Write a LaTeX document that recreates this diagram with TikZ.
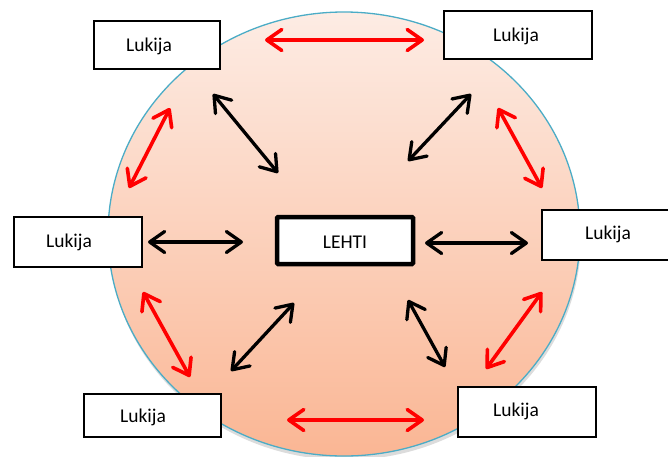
\documentclass[tikz,border=0pt]{standalone}
\usepackage{fontspec}
\setmainfont{Carlito}
\usetikzlibrary{arrows.meta}
\definecolor{rimblue}{RGB}{75,172,198}
\definecolor{peachtop}{RGB}{253,236,228}
\definecolor{peachbottom}{RGB}{250,182,148}
\definecolor{arrowred}{RGB}{255,0,0}
\tikzset{
  reader/.style={draw=black, line width=1.2pt, fill=white, inner sep=0pt},
  label/.style={font=\fontsize{19.5}{22}\selectfont, inner sep=0pt},
  barb/.tip={Straight Barb[length=15pt,width=21pt,line cap=round,line join=round]},
  twoway/.style={line width=3.3pt, {barb}-{barb}},
  blackway/.style={twoway, draw=black},
  redway/.style={twoway, draw=arrowred, line width=3.6pt},
}
\begin{document}
\begin{tikzpicture}[x=1pt,y=-1pt]
\useasboundingbox (0,0) rectangle (668,456);
% shaded disc with a soft shadow
\fill[gray!60, opacity=0.45] (345,238) ellipse [x radius=236, y radius=222];
\shade[top color=peachtop, bottom color=peachbottom, draw=rimblue, line width=1.3pt]
  (344,234) ellipse [x radius=236, y radius=222];

% arrow end points
\coordinate (rt1) at (265,40);   \coordinate (rt2) at (424,40);
\coordinate (rb1) at (287,420);  \coordinate (rb2) at (424,420);
\coordinate (rul1) at (129,188); \coordinate (rul2) at (170,108);
\coordinate (rur1) at (498,108); \coordinate (rur2) at (542,188);
\coordinate (rll1) at (143,292); \coordinate (rll2) at (190,377);
\coordinate (rlr1) at (542,292); \coordinate (rlr2) at (486,369);
\coordinate (bul1) at (213,94);  \coordinate (bul2) at (278,173);
\coordinate (bur1) at (471,94);  \coordinate (bur2) at (408,161);
\coordinate (bl1) at (148,242);  \coordinate (bl2) at (243,242);
\coordinate (br1) at (425,243);  \coordinate (br2) at (528,243);
\coordinate (bll1) at (294,303); \coordinate (bll2) at (231,371);
\coordinate (blr1) at (408,300); \coordinate (blr2) at (445,367);

% reader to reader links
\draw[redway] (rt1) -- (rt2);
\draw[redway] (rb1) -- (rb2);
\draw[redway] (rul1) -- (rul2);
\draw[redway] (rur1) -- (rur2);
\draw[redway] (rll1) -- (rll2);
\draw[redway] (rlr1) -- (rlr2);

% reader to paper links
\draw[blackway] (bul1) -- (bul2);
\draw[blackway] (bur1) -- (bur2);
\draw[blackway] (bl1) -- (bl2);
\draw[blackway] (br1) -- (br2);
\draw[blackway] (bll1) -- (bll2);
\draw[blackway] (blr1) -- (blr2);

% reader boxes
\node[reader, minimum width=126pt, minimum height=48pt] (btl) at (157,45) {};
\node[label] (ltl) at (149,46) {Lukija};
\node[reader, minimum width=148pt, minimum height=48pt] (btr) at (518,35) {};
\node[label] (ltr) at (516,36) {Lukija};
\node[reader, minimum width=128pt, minimum height=50pt] (bl) at (78,242) {};
\node[label] (ll) at (69,242) {Lukija};
\node[reader, minimum width=128pt, minimum height=50pt] (br) at (606,235) {};
\node[label] (lr) at (608,234) {Lukija};
\node[reader, minimum width=137pt, minimum height=43pt] (bbl) at (152.5,415.5) {};
\node[label] (lbl) at (143,417) {Lukija};
\node[reader, minimum width=138pt, minimum height=50pt] (bbr) at (527,412) {};
\node[label] (lbr) at (516,411) {Lukija};

% the paper in the middle
\node[draw=black, line width=4.5pt, fill=white, rounded corners=1pt,
      minimum width=136pt, minimum height=47pt, inner sep=0pt] (paperbox) at (345,240.5) {};
\node[label] (paper) at (345,242) {LEHTI};
\end{tikzpicture}
\end{document}
